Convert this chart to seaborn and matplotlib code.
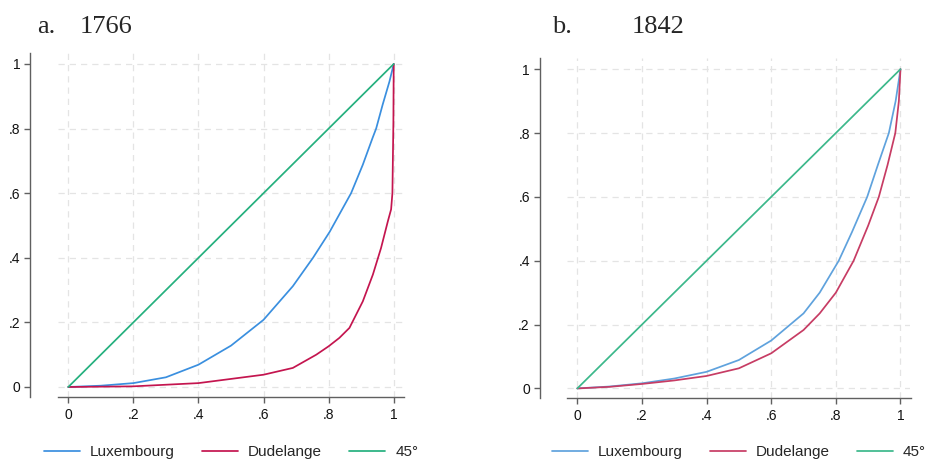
import matplotlib
matplotlib.use("Agg")
import matplotlib.pyplot as plt
import seaborn as sns
import pandas as pd

# ---- data (Lorenz curves) ----
# Panel a: 1766
lux_1766_x = [0, 0.1, 0.2, 0.3, 0.4, 0.5, 0.6, 0.69, 0.752, 0.803, 0.869,
              0.905, 0.935, 0.946, 0.966, 0.987, 1.0]
lux_1766_y = [0, 0.004, 0.012, 0.030, 0.069, 0.128, 0.208, 0.312, 0.40, 0.48,
              0.60, 0.688, 0.771, 0.80, 0.874, 0.946, 1.0]
dud_1766_x = [0, 0.2, 0.4, 0.6, 0.69, 0.762, 0.8, 0.833, 0.864, 0.905, 0.936,
              0.961, 0.982, 0.992, 0.996, 0.999, 1.0]
dud_1766_y = [0, 0.002, 0.012, 0.038, 0.059, 0.10, 0.126, 0.152, 0.183, 0.265,
              0.348, 0.43, 0.513, 0.55, 0.60, 0.82, 1.0]
# Panel b: 1842
lux_1842_x = [0, 0.1, 0.2, 0.3, 0.4, 0.5, 0.6, 0.7, 0.75, 0.809, 0.85, 0.897,
              0.93, 0.964, 0.985, 1.0]
lux_1842_y = [0, 0.006, 0.016, 0.031, 0.052, 0.089, 0.150, 0.235, 0.30, 0.40,
              0.49, 0.60, 0.70, 0.80, 0.90, 1.0]
dud_1842_x = [0, 0.1, 0.2, 0.3, 0.4, 0.5, 0.6, 0.7, 0.75, 0.8, 0.855, 0.9,
              0.933, 0.96, 0.984, 0.995, 1.0]
dud_1842_y = [0, 0.005, 0.014, 0.025, 0.039, 0.063, 0.11, 0.183, 0.235, 0.30,
              0.40, 0.51, 0.60, 0.70, 0.80, 0.90, 1.0]
# 45-degree line
eq_x = [0, 1]
eq_y = [0, 1]

series_names = ["Luxembourg", "Dudelange", "45°"]
panel_letters = ["a.", "b."]
panel_years = ["1766", "1842"]
ticks = [0, 0.2, 0.4, 0.6, 0.8, 1.0]
tick_labels = ["0", ".2", ".4", ".6", ".8", "1"]

colors_a = ["#3a8fdf", "#c4154f", "#25b07e"]
colors_b = ["#5fa2dd", "#c73c64", "#3cb88b"]


def make_df(lx, ly, dx, dy):
    rows = []
    for x, y in zip(lx, ly):
        rows.append((x, y, series_names[0]))
    for x, y in zip(dx, dy):
        rows.append((x, y, series_names[1]))
    for x, y in zip(eq_x, eq_y):
        rows.append((x, y, series_names[2]))
    return pd.DataFrame(rows, columns=["x", "y", "series"])


df_a = make_df(lux_1766_x, lux_1766_y, dud_1766_x, dud_1766_y)
df_b = make_df(lux_1842_x, lux_1842_y, dud_1842_x, dud_1842_y)

sns.set_style("white")
plt.rcParams["font.family"] = ["Liberation Sans", "DejaVu Sans"]
plt.rcParams["lines.solid_joinstyle"] = "round"

W, H = 928, 459
fig = plt.figure(figsize=(W / 100, H / 100), dpi=100)

# axes rectangles in pixels: left, right, top, bottom
rects = [(58.2, 403.8, 53, 397), (567.3, 910.5, 58, 398)]
ylims = [(-0.031, 1.034), (-0.030, 1.035)]
xlims = [(-0.031, 1.031), (-0.031, 1.031)]
title_pos = [(37, 80), (552, 632)]

for i, (df, cols) in enumerate([(df_a, colors_a), (df_b, colors_b)]):
    l, r, t, b = rects[i]
    ax = fig.add_axes([l / W, 1 - b / H, (r - l) / W, (b - t) / H])
    sns.lineplot(data=df, x="x", y="y", hue="series", hue_order=series_names,
                 palette=cols, estimator=None, sort=False, linewidth=1.25,
                 ax=ax)
    ax.set_xlim(*xlims[i])
    ax.set_ylim(*ylims[i])
    ax.set_xticks(ticks)
    ax.set_xticklabels(tick_labels)
    ax.set_yticks(ticks)
    ax.set_yticklabels(tick_labels)
    ax.set_xlabel("")
    ax.set_ylabel("")
    ax.grid(True, color="#e4e4e4", linestyle=(0, (5, 4)), linewidth=0.9)
    ax.set_axisbelow(True)
    for s in ["top", "right"]:
        ax.spines[s].set_visible(False)
    ax.spines["left"].set_position(("outward", 20))
    for s in ["left", "bottom"]:
        ax.spines[s].set_color("#606060")
        ax.spines[s].set_linewidth(1.0)
    ax.tick_params(axis="both", which="both", length=4, width=1.0,
                   color="#606060", labelsize=10, labelcolor="#111111",
                   left=True, bottom=True)
    ax.tick_params(axis="y", pad=3)
    ax.tick_params(axis="x", pad=4)

    handles, labels = ax.get_legend_handles_labels()
    if ax.get_legend() is not None:
        ax.get_legend().remove()
    ax.legend(handles, labels, loc="center", bbox_to_anchor=(0.5, -0.16),
              ncol=3, frameon=False, fontsize=11, handlelength=2.35,
              handletextpad=0.65, columnspacing=1.8)

    lx, yx = title_pos[i]
    fig.text(lx / W, 1 - 33 / H, panel_letters[i], fontsize=19,
             family=["Liberation Serif", "DejaVu Serif"], va="baseline")
    fig.text(yx / W, 1 - 33 / H, panel_years[i], fontsize=19,
             family=["Liberation Serif", "DejaVu Serif"], va="baseline")

fig.savefig("out.png", dpi=100)
